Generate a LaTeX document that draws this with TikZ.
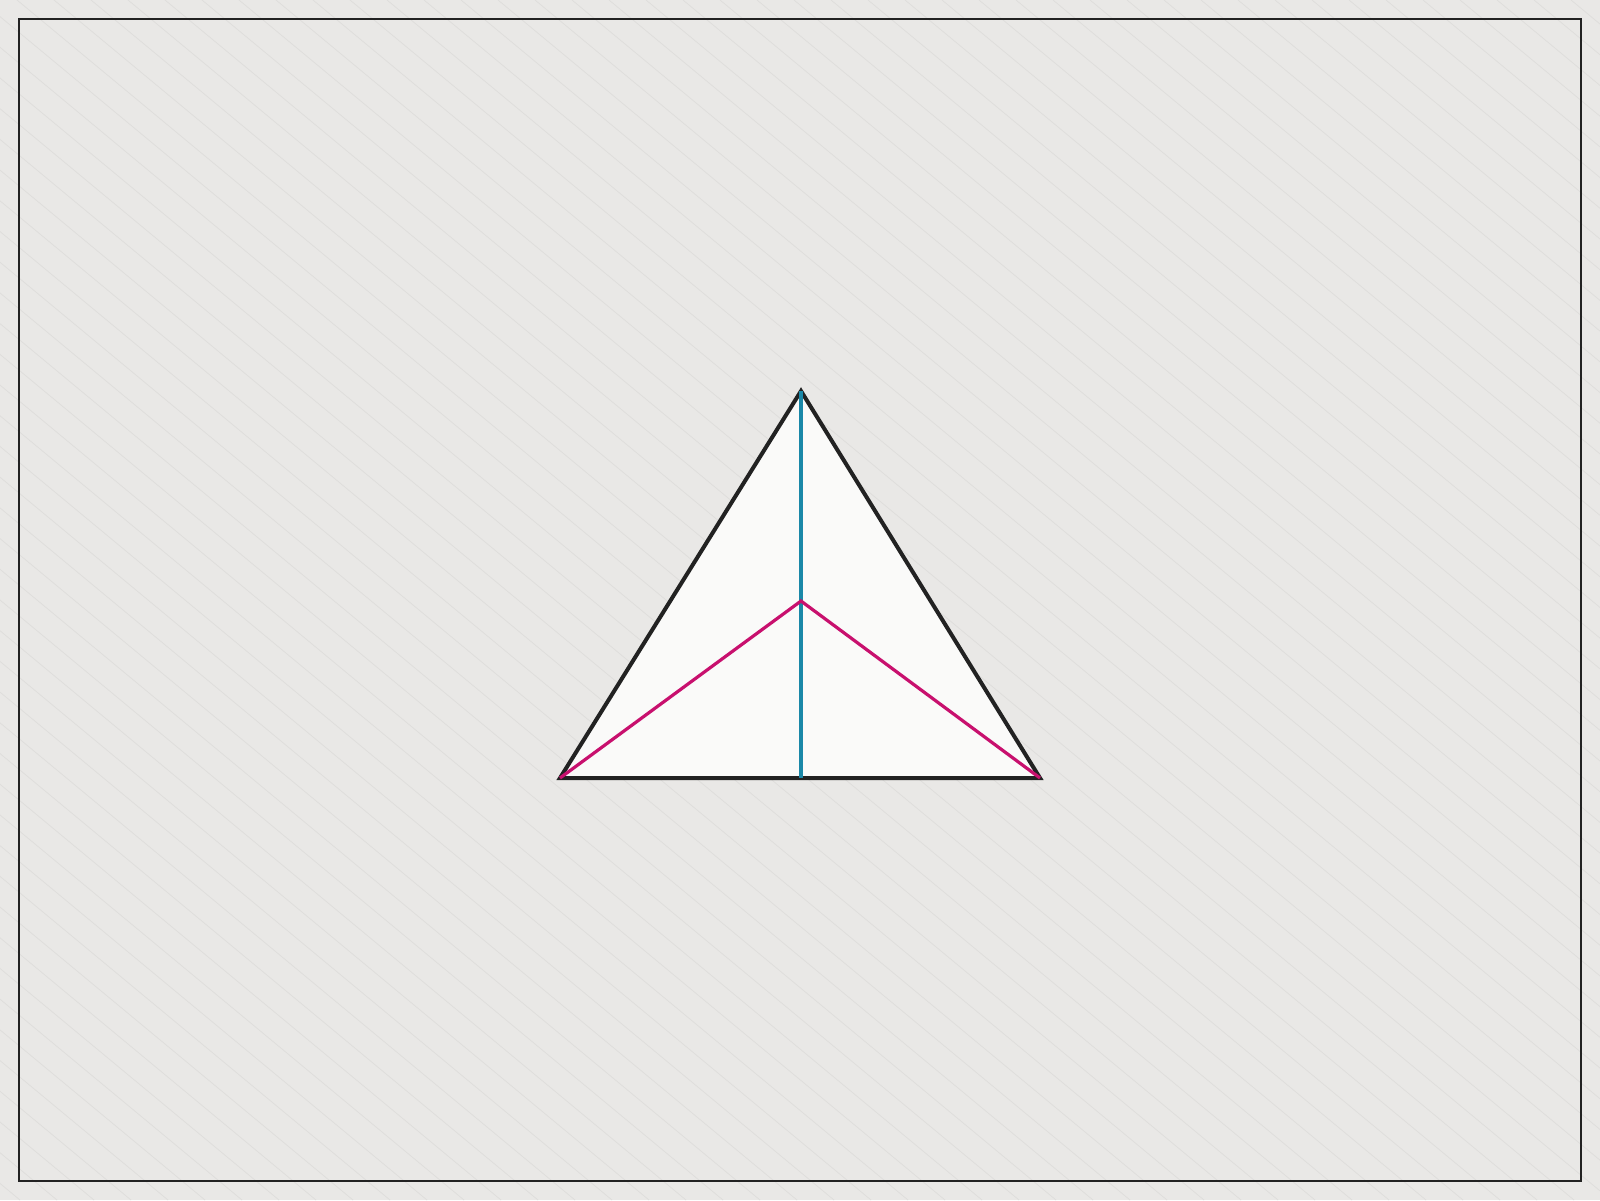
\documentclass[tikz,border=0pt]{standalone}
\begin{document}
\begin{tikzpicture}[x=1pt,y=-1pt]
\definecolor{bgc}{HTML}{E9E8E6}
\definecolor{hc}{HTML}{DFDEDC}
\definecolor{inkc}{HTML}{222222}
\definecolor{fillc}{HTML}{FAFAF9}
\definecolor{bluec}{HTML}{1A88A8}
\definecolor{magc}{HTML}{C8106E}
\tikzset{
  hatch/.style={draw=hc, line width=0.8pt},
  frame/.style={draw=inkc, line width=2pt},
  tri/.style={draw=inkc, line width=4pt, fill=fillc, line join=miter},
  altitude/.style={draw=bluec, line width=3.5pt},
  spoke/.style={draw=magc, line width=3.2pt}}
\useasboundingbox (0,0) rectangle (1600,1200);
\fill[bgc] (0,0) rectangle (1600,1200);
\begin{scope}
\clip (0,0) rectangle (1600,1200);
\foreach \k in {-1500,-1463,...,1600} \draw[hatch] (\k,0) -- ++(1446,1200);
\end{scope}
\draw[frame] (19,19) rectangle (1581,1181);
\coordinate (A) at (801,391);
\coordinate (B) at (560,778);
\coordinate (C) at (1040,778);
\coordinate (P) at (801,601);
\coordinate (H) at (801,778);
\path[tri] (A) -- (B) -- (C) -- cycle;
\draw[altitude] (A) -- (H);
\draw[spoke] (B) -- (P) -- (C);
\end{tikzpicture}
\end{document}
